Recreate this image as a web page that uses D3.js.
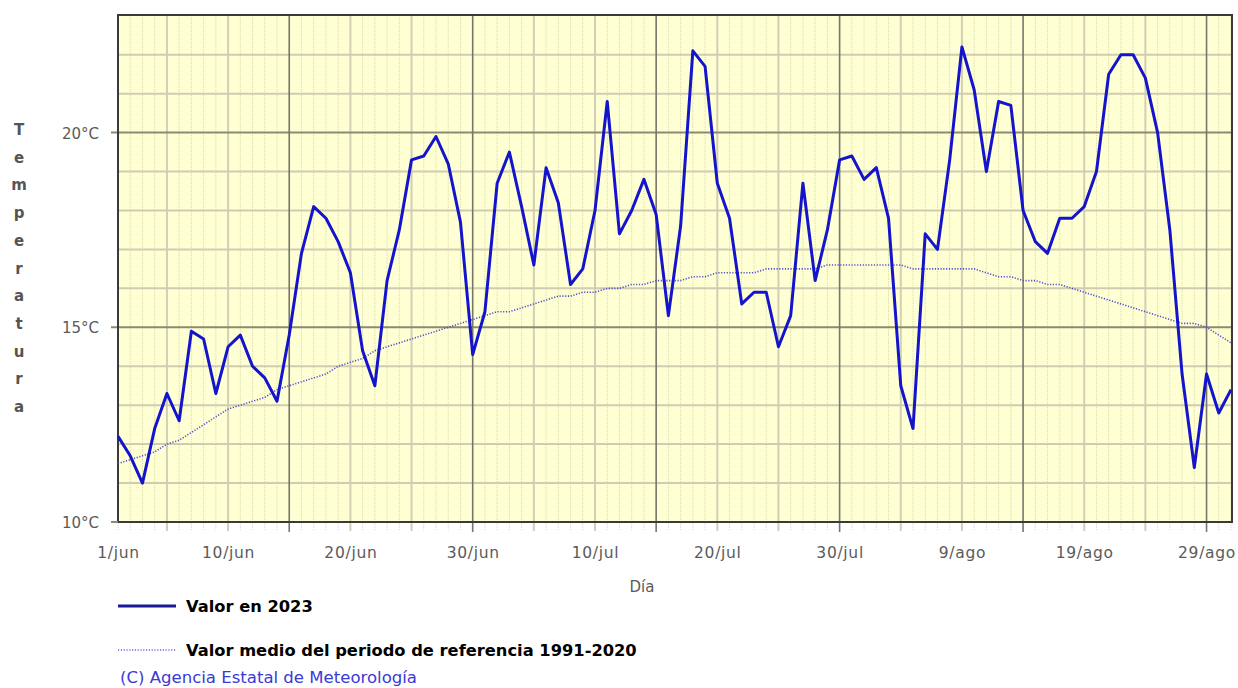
<!DOCTYPE html>
<html><head><meta charset="utf-8">
<script src="https://cdn.jsdelivr.net/npm/d3@7"></script>
<style>body{margin:0;background:#fff} svg{display:block}</style>
</head><body><svg id="c" width="1238" height="688"></svg>
<script>
// Daily mean temperature, 1 Jun – 31 Aug 2023 (°C)
const values2023 = [
  12.2, 11.7, 11.0, 12.4, 13.3, 12.6, 14.9, 14.7, 13.3, 14.5,
  14.8, 14.0, 13.7, 13.1, 14.8, 16.9, 18.1, 17.8, 17.2, 16.4,
  14.4, 13.5, 16.2, 17.5, 19.3, 19.4, 19.9, 19.2, 17.7, 14.3,
  15.4, 18.7, 19.5, 18.1, 16.6, 19.1, 18.2, 16.1, 16.5, 18.0,
  20.8, 17.4, 18.0, 18.8, 17.9, 15.3, 17.6, 22.1, 21.7, 18.7,
  17.8, 15.6, 15.9, 15.9, 14.5, 15.3, 18.7, 16.2, 17.5, 19.3,
  19.4, 18.8, 19.1, 17.8, 13.5, 12.4, 17.4, 17.0, 19.3, 22.2,
  21.1, 19.0, 20.8, 20.7, 18.0, 17.2, 16.9, 17.8, 17.8, 18.1,
  19.0, 21.5, 22.0, 22.0, 21.4, 20.0, 17.5, 13.8, 11.4, 13.8,
  12.8, 13.4
];
// Reference period 1991-2020 mean (°C)
const valuesRef = [
  11.5, 11.6, 11.7, 11.8, 12.0, 12.1, 12.3, 12.5, 12.7, 12.9,
  13.0, 13.1, 13.2, 13.4, 13.5, 13.6, 13.7, 13.8, 14.0, 14.1,
  14.2, 14.4, 14.5, 14.6, 14.7, 14.8, 14.9, 15.0, 15.1, 15.2,
  15.3, 15.4, 15.4, 15.5, 15.6, 15.7, 15.8, 15.8, 15.9, 15.9,
  16.0, 16.0, 16.1, 16.1, 16.2, 16.2, 16.2, 16.3, 16.3, 16.4,
  16.4, 16.4, 16.4, 16.5, 16.5, 16.5, 16.5, 16.5, 16.6, 16.6,
  16.6, 16.6, 16.6, 16.6, 16.6, 16.5, 16.5, 16.5, 16.5, 16.5,
  16.5, 16.4, 16.3, 16.3, 16.2, 16.2, 16.1, 16.1, 16.0, 15.9,
  15.8, 15.7, 15.6, 15.5, 15.4, 15.3, 15.2, 15.1, 15.1, 15.0,
  14.8, 14.6
];
const tickDays = [0, 9, 19, 29, 39, 49, 59, 69, 79, 89];
const tickLabels = ["1/jun", "10/jun", "20/jun", "30/jun", "10/jul", "20/jul", "30/jul", "9/ago", "19/ago", "29/ago"];
const yTicks = [10, 15, 20];
const yTickLabels = ["10°C", "15°C", "20°C"];
const yTitle = "Temperatura";
const xTitle = "Día";
const legendLabels = ["Valor en 2023", "Valor medio del periodo de referencia 1991-2020"];
const credit = "(C) Agencia Estatal de Meteorología";

const svg = d3.select("#c");
const L = 118, R = 1232, T = 15, B = 522;
const nDays = values2023.length;
const x = d3.scaleLinear().domain([0, nDays - 1]).range([L, 1231]);
const y = d3.scaleLinear().domain([10, 23]).range([B, T + 0.8]);

// plot background
svg.append("rect").attr("x", L).attr("y", T).attr("width", R - L).attr("height", B - T).attr("fill", "#ffffd4");

const g = svg.append("g");
const allDays = d3.range(nDays);
// daily dotted minor lines
g.selectAll(".minor").data(allDays.filter(d => (d + 1) % 5 !== 0)).join("line")
  .attr("x1", d => x(d)).attr("x2", d => x(d)).attr("y1", T).attr("y2", B + 9)
  .attr("stroke", "#d8d6c0").attr("stroke-width", 1).attr("stroke-dasharray", "1,1");
// every 5 days light solid lines
g.selectAll(".mid").data(allDays.filter(d => (d + 1) % 5 === 0 && (d + 1) % 15 !== 0)).join("line")
  .attr("x1", d => x(d)).attr("x2", d => x(d)).attr("y1", T).attr("y2", B + 9)
  .attr("stroke", "#d2cfb4").attr("stroke-width", 2);
// horizontal 1°C lines
const hLines = d3.range(11, 23);
g.selectAll(".h").data(hLines.filter(v => v % 5 !== 0)).join("line")
  .attr("x1", L).attr("x2", R).attr("y1", d => y(d)).attr("y2", d => y(d))
  .attr("stroke", "#d0ccb2").attr("stroke-width", 2);
g.selectAll(".hM").data(hLines.filter(v => v % 5 === 0)).join("line")
  .attr("x1", L - 7).attr("x2", R).attr("y1", d => y(d)).attr("y2", d => y(d))
  .attr("stroke", "#8c8a72").attr("stroke-width", 2);
// major 15-day lines
g.selectAll(".maj").data(allDays.filter(d => (d + 1) % 15 === 0)).join("line")
  .attr("x1", d => x(d)).attr("x2", d => x(d)).attr("y1", T).attr("y2", B + 10)
  .attr("stroke", "#77766a").attr("stroke-width", 1.6);

// border
svg.append("rect").attr("x", L).attr("y", T).attr("width", R - L).attr("height", B - T)
  .attr("fill", "none").attr("stroke", "#3a3a3a").attr("stroke-width", 2);
svg.append("line").attr("x1", L - 7).attr("x2", L).attr("y1", y(10)).attr("y2", y(10)).attr("stroke", "#8c8a72").attr("stroke-width", 2);

// lines
const line = d3.line().x((d, i) => x(i)).y(d => y(d));
svg.append("path").datum(valuesRef).attr("d", line).attr("fill", "none")
  .attr("stroke", "#5050cc").attr("stroke-width", 1.6).attr("stroke-dasharray", "1.2,1.6");
svg.append("path").datum(values2023).attr("d", line).attr("fill", "none")
  .attr("stroke", "#1414cc").attr("stroke-width", 3).attr("stroke-linejoin", "round");

// x axis labels
const xAxis = d3.axisBottom(x).tickValues(tickDays).tickFormat((d, i) => tickLabels[i]).tickSize(0).tickPadding(0);
const xa = svg.append("g").attr("transform", `translate(0,${B})`).call(xAxis);
xa.select(".domain").remove();
xa.selectAll("text").attr("y", 36).attr("dy", 0).attr("font-family", "DejaVu Sans").attr("font-size", 15.5)
  .attr("letter-spacing", "0.7px").attr("fill", "#5a5a5a");

// y axis labels
const yAxis = d3.axisLeft(y).tickValues(yTicks).tickFormat((d, i) => yTickLabels[i]).tickSize(0).tickPadding(0);
const ya = svg.append("g").attr("transform", `translate(${L - 19},0)`).call(yAxis);
ya.select(".domain").remove();
ya.selectAll("text").attr("font-family", "DejaVu Sans").attr("font-size", 15).attr("fill", "#5a5a5a").attr("dy", "0.36em");

// y title (stacked letters)
svg.append("g").selectAll("text").data(yTitle.split("")).join("text")
  .attr("x", 19).attr("y", (d, i) => 135 + i * 27.7).attr("text-anchor", "middle")
  .attr("font-family", "DejaVu Sans").attr("font-weight", "bold").attr("font-size", 15).attr("fill", "#555")
  .text(d => d);

// x title
svg.append("text").attr("x", 642).attr("y", 592).attr("text-anchor", "middle")
  .attr("font-family", "DejaVu Sans").attr("font-size", 15).attr("fill", "#5a5a5a").text(xTitle);

// legend
svg.append("line").attr("x1", 118).attr("x2", 176).attr("y1", 606).attr("y2", 606).attr("stroke", "#1a1a96").attr("stroke-width", 3);
svg.append("text").attr("x", 186).attr("y", 612).attr("font-family", "DejaVu Sans").attr("font-weight", "bold").attr("font-size", 16.3).attr("fill", "#000").text(legendLabels[0]);
svg.append("line").attr("x1", 118).attr("x2", 176).attr("y1", 650).attr("y2", 650).attr("stroke", "#6a6ad8").attr("stroke-width", 1.5).attr("stroke-dasharray", "1.2,1.6");
svg.append("text").attr("x", 186).attr("y", 656).attr("font-family", "DejaVu Sans").attr("font-weight", "bold").attr("font-size", 16.3).attr("fill", "#000").text(legendLabels[1]);
svg.append("text").attr("x", 120).attr("y", 683).attr("font-family", "DejaVu Sans").attr("font-size", 15)
  .attr("textLength", 297).attr("lengthAdjust", "spacingAndGlyphs").attr("fill", "#3a3ad6").text(credit);
</script>
</body></html>
